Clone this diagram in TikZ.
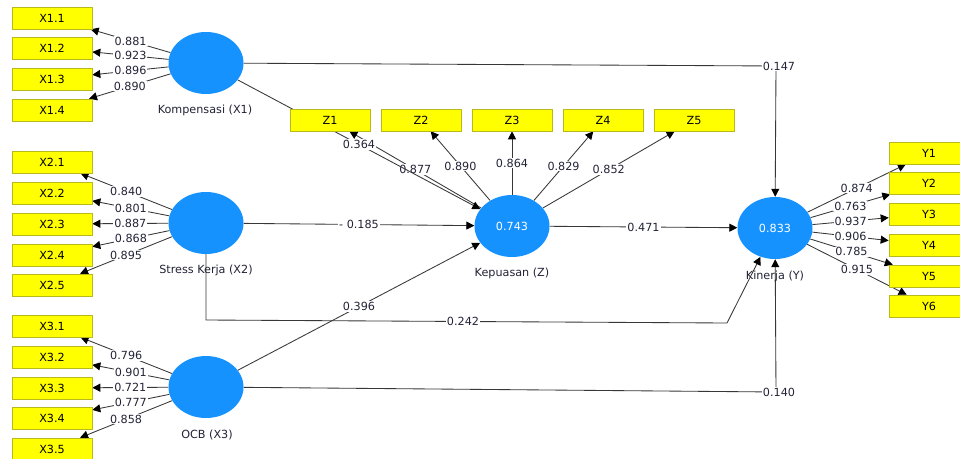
\documentclass[tikz,border=0pt]{standalone}
\usepackage{fontspec}
\setmainfont{DejaVu Sans}
\usetikzlibrary{shapes.geometric,arrows.meta}
\pgfdeclarelayer{bg}
\pgfsetlayers{bg,main}
\definecolor{lv}{RGB}{22,146,255}
\definecolor{boxy}{RGB}{255,255,0}
\definecolor{boxb}{RGB}{185,185,30}
\definecolor{ln}{RGB}{55,55,55}
\definecolor{txt}{RGB}{35,35,55}
\begin{document}
\begin{tikzpicture}[x=1pt,y=-1pt,
  font=\fontsize{11.2}{13}\selectfont,
  lvar/.style={ellipse, fill=lv, minimum width=75pt, minimum height=62pt, inner sep=0pt, text=white},
  ind/.style={rectangle, fill=boxy, draw=boxb, line width=0.6pt, minimum width=80pt, minimum height=22pt, inner sep=0pt, text=black},
  lvname/.style={text=txt, inner sep=1pt},
  lbl/.style={fill=white, inner sep=1pt, text=txt},
  arr/.style={draw=ln, line width=0.85pt, -{Triangle[length=8pt,width=8pt,color=black]}}]
\useasboundingbox (0,0) rectangle (960,458);

% latent variables
\node[lvar] (X1) at (206,63) {};
\node[lvar] (X2) at (206,223) {};
\node[lvar] (X3) at (206,387) {};
\node[lvar] (Z) at (512,226) {0.743};
\node[lvar] (Y) at (775,228) {0.833};
\node[lvname] (nX1) at (205,110) {Kompensasi (X1)};
\node[lvname] (nX2) at (206,270) {Stress Kerja (X2)};
\node[lvname] (nX3) at (207,435) {OCB (X3)};
\node[lvname] (nZ) at (512,273) {Kepuasan (Z)};
\node[lvname] (nY) at (775,276) {Kinerja (Y)};

% indicators
\node[ind] (x11) at (52,18) {X1.1};
\node[ind] (x12) at (52,48) {X1.2};
\node[ind] (x13) at (52,79) {X1.3};
\node[ind] (x14) at (52,110) {X1.4};
\node[ind] (x21) at (52,162) {X2.1};
\node[ind] (x22) at (52,193) {X2.2};
\node[ind] (x23) at (52,224) {X2.3};
\node[ind] (x24) at (52,255) {X2.4};
\node[ind] (x25) at (52,285) {X2.5};
\node[ind] (x31) at (52,326) {X3.1};
\node[ind] (x32) at (52,357) {X3.2};
\node[ind] (x33) at (52,388) {X3.3};
\node[ind] (x34) at (52,418) {X3.4};
\node[ind] (x35) at (52,449) {X3.5};
\node[ind] (z1) at (330,120) {Z1};
\node[ind] (z2) at (421,120) {Z2};
\node[ind] (z3) at (512,120) {Z3};
\node[ind] (z4) at (603,120) {Z4};
\node[ind] (z5) at (694,120) {Z5};
\node[ind] (y1) at (929,153) {Y1};
\node[ind] (y2) at (929,183) {Y2};
\node[ind] (y3) at (929,214) {Y3};
\node[ind] (y4) at (929,245) {Y4};
\node[ind] (y5) at (929,276) {Y5};
\node[ind] (y6) at (929,306) {Y6};

\coordinate (b1) at (776,66);
\coordinate (b2a) at (206,320);
\coordinate (b2b) at (727,323);
\coordinate (b3) at (776,392);

\begin{pgfonlayer}{bg}
\fill[white] (0,0) rectangle (960,458);
% loadings X1
\draw[arr] (X1) -- node[lbl]{0.881} (x11);
\draw[arr] (X1) -- node[lbl]{0.923} (x12);
\draw[arr] (X1) -- node[lbl]{0.896} (x13);
\draw[arr] (X1) -- node[lbl]{0.890} (x14);
% loadings X2
\draw[arr] (X2) -- node[lbl]{0.840} (x21);
\draw[arr] (X2) -- node[lbl]{0.801} (x22);
\draw[arr] (X2) -- node[lbl]{0.887} (x23);
\draw[arr] (X2) -- node[lbl]{0.868} (x24);
\draw[arr] (X2) -- node[lbl]{0.895} (x25);
% loadings X3
\draw[arr] (X3) -- node[lbl]{0.796} (x31);
\draw[arr] (X3) -- node[lbl]{0.901} (x32);
\draw[arr] (X3) -- node[lbl]{0.721} (x33);
\draw[arr] (X3) -- node[lbl]{0.777} (x34);
\draw[arr] (X3) -- node[lbl]{0.858} (x35);
% loadings Z
\draw[arr] (Z) -- node[lbl]{0.877} (z1);
\draw[arr] (Z) -- node[lbl]{0.890} (z2);
\draw[arr] (Z) -- node[lbl]{0.864} (z3);
\draw[arr] (Z) -- node[lbl]{0.829} (z4);
\draw[arr] (Z) -- node[lbl]{0.852} (z5);
% loadings Y
\draw[arr] (Y) -- node[lbl]{0.874} (y1);
\draw[arr] (Y) -- node[lbl]{0.763} (y2);
\draw[arr] (Y) -- node[lbl]{0.937} (y3);
\draw[arr] (Y) -- node[lbl]{0.906} (y4);
\draw[arr] (Y) -- node[lbl]{0.785} (y5);
\draw[arr] (Y) -- node[lbl]{0.915} (y6);
% structural paths
\draw[arr] (X1) -- node[lbl]{0.364} (Z);
\draw[arr] (X2) -- node[lbl]{- 0.185} (Z);
\draw[arr] (X3) -- node[lbl]{0.396} (Z);
\draw[arr] (Z) -- node[lbl]{0.471} (Y);
\draw[arr] (X1) -- (b1) -- (Y);
\node[lbl] at (779,66) {0.147};
\draw[arr] (X2) -- (b2a) -- (b2b) -- (Y);
\node[lbl] at (463,321.5) {0.242};
\draw[arr] (X3) -- (b3) -- (Y);
\node[lbl] at (779,392) {0.140};
\end{pgfonlayer}
\end{tikzpicture}
\end{document}
